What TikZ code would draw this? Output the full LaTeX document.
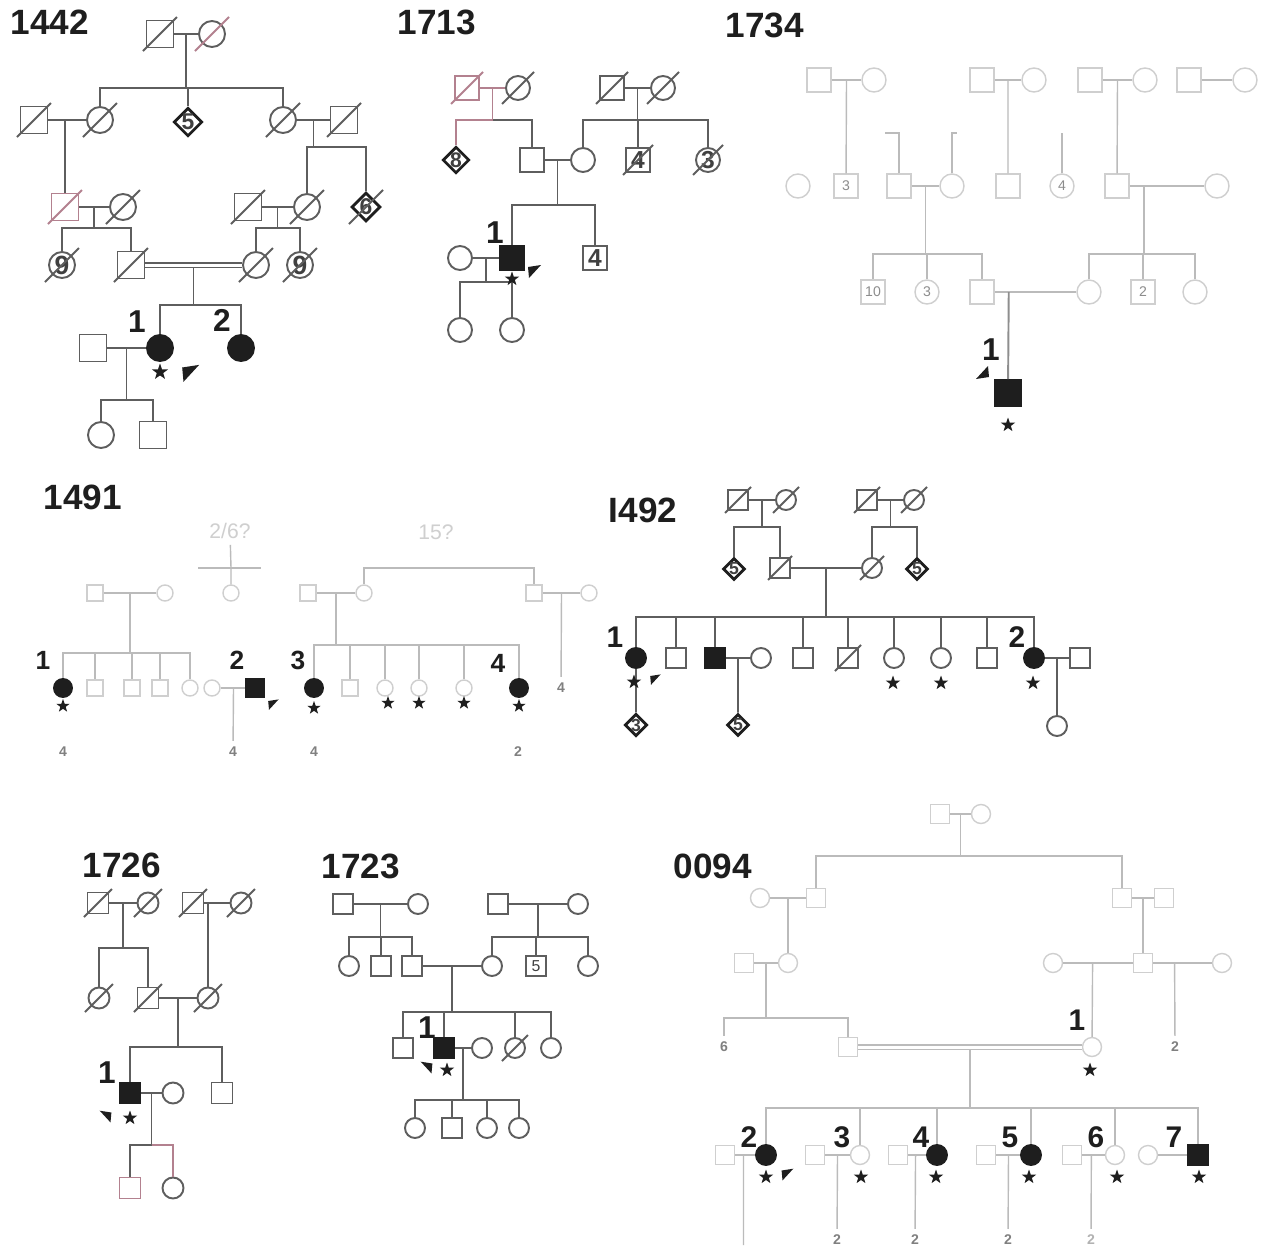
\documentclass[tikz,border=0pt]{standalone}
\usepackage{fontspec}
\setmainfont{Liberation Sans}
\usetikzlibrary{calc,shapes.geometric}
\definecolor{linegray}{HTML}{5E5E5E}
\definecolor{pinkline}{HTML}{B3818F}
\definecolor{fadedline}{HTML}{BBBBBB}
\definecolor{fadedsym}{HTML}{CFCFCF}
\definecolor{ink}{HTML}{1E1E1E}
\tikzset{
  kin/.style={draw=linegray, line width=1.1pt},
  fkin/.style={draw=fadedline, line width=0.8pt},
  pkin/.style={draw=pinkline, line width=1.1pt},
  person/.style={draw=linegray, line width=1.1pt, fill=white, inner sep=0pt,
    font=\fontsize{12}{12}\selectfont\bfseries, text=ink!85},
  male/.style={person, rectangle, minimum size=#1*0.02cm},
  male/.default=24,
  female/.style={person, circle, minimum size=#1*0.02cm},
  female/.default=24,
  anysex/.style={person, diamond, minimum size=#1*0.02cm,
    font=\fontsize{11}{11}\selectfont\bfseries},
  anysex/.default=24,
  boldsib/.style={draw=ink, line width=1.6pt, font=\fontsize{10}{10}\selectfont\bfseries},
  aff/.style={fill=ink, draw=ink},
  dim/.style={draw=fadedsym, line width=0.8pt, text=black!45,
    font=\fontsize{8}{8}\selectfont},
  title/.style={font=\fontsize{20}{20}\selectfont\bfseries, text=ink},
  idlab/.style={font=\fontsize{#1}{#1}\selectfont\bfseries, text=ink},
  idlab/.default=17,
  carrier/.style={star, star points=5, star point ratio=2.5, fill=ink,
    inner sep=0pt, minimum size=#1*0.02cm},
  carrier/.default=16,
  count/.style={font=\fontsize{8}{8}\selectfont\bfseries, text=black!50},
  proband/.pic={\fill[ink] (-6,-5) -- (7,-7) -- (-5,6) -- cycle;}
}
\newcommand{\deceased}[3][kin]{\draw[#1] ($(#2)+(-#3,#3)$) -- ($(#2)+(#3,-#3)$);}

\begin{document}
\begin{tikzpicture}[x=0.02cm, y=-0.02cm]
\useasboundingbox (0,0) rectangle (1265,1251);
\fill[white] (0,0) rectangle (1265,1251);

% ---------- 1442 ----------
\node[title] (t1442) at (50,22) {1442};
\node[male=27] (A-I1) at (160,34) {};
\node[female=26] (A-I2) at (212,34) {};
\deceased{A-I1}{17}
\deceased[pkin]{A-I2}{17}
\draw[kin] (A-I1) -- (A-I2);
\coordinate (A-m1) at ($(A-I1)!0.5!(A-I2)$);
\coordinate (A-s1) at ($(A-m1)+(0,54)$);
\node[male=27] (A-II1) at (34,120) {};
\node[female=26] (A-II2) at (100,120) {};
\node[anysex=25, boldsib, font=\fontsize{13}{13}\selectfont\bfseries] (A-II3) at (188,122) {5};
\node[female=26] (A-II4) at (283,120) {};
\node[male=27] (A-II5) at (344,120) {};
\foreach \p in {A-II1,A-II2,A-II4,A-II5} {\deceased{\p}{17}}
\draw[kin] (A-m1) -- (A-s1) (A-s1) -| (A-II2) (A-s1) -| (A-II3) (A-s1) -| (A-II4);
\draw[kin] (A-II1) -- (A-II2) (A-II4) -- (A-II5);
\coordinate (A-m2) at ($(A-II1)!0.5!(A-II2)$);
\coordinate (A-m3) at ($(A-II4)!0.5!(A-II5)$);
\coordinate (A-s3) at ($(A-m3)+(0,27)$);
\node[male=27, draw=pinkline] (A-III1) at (65,207) {};
\node[female=26] (A-III2) at (123,207) {};
\node[male=27] (A-III3) at (248,207) {};
\node[female=26] (A-III4) at (307,207) {};
\node[anysex=25, boldsib, font=\fontsize{13}{13}\selectfont\bfseries] (A-III5) at (366,207) {6};
\deceased[pkin]{A-III1}{17}
\foreach \p in {A-III2,A-III3,A-III4,A-III5} {\deceased{\p}{17}}
\draw[kin] (A-m2) -| (A-III1);
\draw[kin] (A-m3) -- (A-s3) (A-s3) -| (A-III4) (A-s3) -| (A-III5);
\draw[kin] (A-III1) -- (A-III2) (A-III3) -- (A-III4);
\coordinate (A-m4) at ($(A-III1)!0.5!(A-III2)$);
\coordinate (A-s4) at ($(A-m4)+(0,21)$);
\coordinate (A-m5) at ($(A-III3)!0.5!(A-III4)$);
\coordinate (A-s5) at ($(A-m5)+(0,21)$);
\node[female=26, font=\fontsize{15}{15}\selectfont\bfseries] (A-IV1) at (62,265) {9};
\node[male=27] (A-IV2) at (131,265) {};
\node[female=26] (A-IV3) at (256,265) {};
\node[female=26, font=\fontsize{15}{15}\selectfont\bfseries] (A-IV4) at (300,265) {9};
\foreach \p in {A-IV1,A-IV2,A-IV3,A-IV4} {\deceased{\p}{17}}
\draw[kin] (A-m4) -- (A-s4) (A-s4) -| (A-IV1) (A-s4) -| (A-IV2);
\draw[kin] (A-m5) -- (A-s5) (A-s5) -| (A-IV3) (A-s5) -| (A-IV4);
\draw[kin, double, double distance=0.06cm] (A-IV2) -- (A-IV3);
\coordinate (A-m6) at ($(A-IV2)!0.5!(A-IV3)+(0,3)$);
\coordinate (A-s6) at ($(A-m6)+(0,37)$);
\node[female=26, aff] (A-V1) at (160,348) {};
\node[female=26, aff] (A-V2) at (241,348) {};
\node[male=27] (A-V0) at (93,348) {};
\draw[kin] (A-m6) -- (A-s6) (A-s6) -| (A-V1) (A-s6) -| (A-V2);
\draw[kin] (A-V0) -- (A-V1);
\coordinate (A-m7) at ($(A-V0)!0.5!(A-V1)$);
\coordinate (A-s7) at ($(A-m7)+(0,52)$);
\node[female=26] (A-VI1) at (101,435) {};
\node[male=27] (A-VI2) at (153,435) {};
\draw[kin] (A-m7) -- (A-s7) (A-s7) -| (A-VI1) (A-s7) -| (A-VI2);
\node[idlab=18] (A-l1) at (137,322) {1};
\node[idlab=18] (A-l2) at (222,320) {2};
\node[carrier=17] (A-c1) at (160,372) {};
\pic[scale=1.3] at (190,374) {proband};

% ---------- 1713 ----------
\node[title] (t1713) at (437,22) {1713};
\node[male, draw=pinkline] (B-I1) at (467,88) {};
\node[female] (B-I2) at (518,88) {};
\node[male] (B-I3) at (612,88) {};
\node[female] (B-I4) at (663,88) {};
\deceased[pkin]{B-I1}{16}
\foreach \p in {B-I2,B-I3,B-I4} {\deceased{\p}{16}}
\draw[pkin] (B-I1) -- (B-I2);
\draw[kin] (B-I3) -- (B-I4);
\coordinate (B-m1) at ($(B-I1)!0.5!(B-I2)$);
\coordinate (B-s1) at ($(B-m1)+(0,32)$);
\coordinate (B-m2) at ($(B-I3)!0.5!(B-I4)$);
\coordinate (B-s2) at ($(B-m2)+(0,32)$);
\node[anysex=22, boldsib, font=\fontsize{12}{12}\selectfont\bfseries] (B-II1) at (456,160) {8};
\node[male] (B-II2) at (532,160) {};
\node[female] (B-II3) at (583,160) {};
\node[male, font=\fontsize{14}{14}\selectfont\bfseries] (B-II4) at (638,160) {4};
\node[female, font=\fontsize{14}{14}\selectfont\bfseries] (B-II5) at (708,160) {3};
\deceased{B-II4}{15}
\deceased{B-II5}{15}
\draw[pkin] (B-m1) -- (B-s1) (B-s1) -| (B-II1);
\draw[kin] (B-s1) -| (B-II2);
\draw[kin] (B-m2) -- (B-s2) (B-s2) -| (B-II3) (B-s2) -| (B-II4) (B-s2) -| (B-II5);
\draw[kin] (B-II2) -- (B-II3);
\coordinate (B-m3) at ($(B-II2)!0.5!(B-II3)$);
\coordinate (B-s3) at ($(B-m3)+(0,45)$);
\node[male, aff] (B-III1) at (512,258) {};
\node[male, font=\fontsize{14}{14}\selectfont\bfseries] (B-III2) at (595,258) {4};
\node[female] (B-III0) at (460,258) {};
\draw[kin] (B-m3) -- (B-s3) (B-s3) -| (B-III1) (B-s3) -| (B-III2);
\draw[kin] (B-III0) -- (B-III1);
\coordinate (B-m4) at ($(B-III0)!0.5!(B-III1)$);
\coordinate (B-s4) at ($(B-m4)+(0,24)$);
\node[female] (B-IV1) at (460,330) {};
\node[female] (B-IV2) at (512,330) {};
\draw[kin] (B-m4) -- (B-s4) (B-s4) -| (B-IV1) (B-s4) -| (B-IV2);
\node[idlab=18] (B-l1) at (495,233) {1};
\node[carrier=15] (B-c1) at (512,279) {};
\pic at (534,272) {proband};

% ---------- 1734 ----------
\node[title] (t1734) at (765,25) {1734};
\node[male, dim] (C-I1) at (819,80) {};
\node[female, dim] (C-I2) at (874,80) {};
\node[male, dim] (C-I3) at (982,80) {};
\node[female, dim] (C-I4) at (1034,80) {};
\node[male, dim] (C-I5) at (1090,80) {};
\node[female, dim] (C-I6) at (1145,80) {};
\node[male, dim] (C-I7) at (1189,80) {};
\node[female, dim] (C-I8) at (1245,80) {};
\draw[fkin] (C-I1) -- (C-I2) (C-I3) -- (C-I4) (C-I5) -- (C-I6) (C-I7) -- (C-I8);
\coordinate (C-m1) at ($(C-I1)!0.5!(C-I2)$);
\coordinate (C-m2) at ($(C-I3)!0.5!(C-I4)$);
\coordinate (C-m3) at ($(C-I5)!0.5!(C-I6)$);
\node[female, dim] (C-II1) at (798,186) {};
\node[male, dim] (C-II2) at (846,186) {3};
\node[male, dim] (C-II3) at (899,186) {};
\node[female, dim] (C-II4) at (952,186) {};
\node[male, dim] (C-II5) at (1008,186) {};
\node[female, dim] (C-II6) at (1062,186) {4};
\node[male, dim] (C-II7) at (1117,186) {};
\node[female, dim] (C-II8) at (1217,186) {};
\draw[fkin] (C-m1) -- (C-II2) (C-m2) -- (C-II5) (C-m3) -- (C-II7);
\coordinate (C-u1) at (885,133);
\coordinate (C-u2) at (957,133);
\coordinate (C-u3) at (1062,133);
\draw[fkin] (C-II3) |- (C-u1) (C-II4) |- (C-u2) (C-II6) -- (C-u3);
\draw[fkin] (C-II3) -- (C-II4) (C-II7) -- (C-II8);
\coordinate (C-m4) at ($(C-II3)!0.5!(C-II4)$);
\coordinate (C-s4) at ($(C-m4)+(0,68)$);
\coordinate (C-m5) at ($(C-II7)!0.27!(C-II8)$);
\coordinate (C-s5) at ($(C-m5)+(0,68)$);
\node[male, dim] (C-III1) at (873,292) {10};
\node[female, dim] (C-III2) at (927,292) {3};
\node[male, dim] (C-III3) at (982,292) {};
\node[female, dim] (C-III4) at (1089,292) {};
\node[male, dim] (C-III5) at (1143,292) {2};
\node[female, dim] (C-III6) at (1195,292) {};
\draw[fkin] (C-m4) -- (C-s4) (C-s4) -| (C-III1) (C-s4) -| (C-III2) (C-s4) -| (C-III3);
\draw[fkin] (C-m5) -- (C-s5) (C-s5) -| (C-III4) (C-s5) -| (C-III5) (C-s5) -| (C-III6);
\draw[fkin] (C-III3) -- (C-III4);
\coordinate (C-m6) at ($(C-III3)!0.25!(C-III4)$);
\node[male=26, aff] (C-IV1) at (1008,393) {};
\draw[kin, draw=linegray!70] (C-m6) -- (C-IV1);
\node[idlab=18] (C-l1) at (991,350) {1};
\node[carrier=15] (C-c1) at (1008,425) {};
\pic[xscale=-1, yscale=-1] at (983,372) {proband};

% ---------- 1491 ----------
\node[title] (t1491) at (83,497) {1491};
\node[font=\fontsize{12}{12}\selectfont, text=fadedsym] (D-q1) at (230,531) {2/6?};
\node[font=\fontsize{12}{12}\selectfont, text=fadedsym] (D-q2) at (436,532) {15?};
\node[male=16, dim] (D-I1) at (95,593) {};
\node[female=16, dim] (D-I2) at (165,593) {};
\node[female=16, dim] (D-I3) at (231,593) {};
\node[male=16, dim] (D-I4) at (308,593) {};
\node[female=16, dim] (D-I5) at (364,593) {};
\node[male=16, dim] (D-I6) at (534,593) {};
\node[female=16, dim] (D-I7) at (589,593) {};
\draw[fkin] (D-I1) -- (D-I2) (D-I4) -- (D-I5) (D-I6) -- (D-I7);
\coordinate (D-s0) at (231,568);
\coordinate (D-s1) at (450,568);
\draw[fkin] (D-q1) -- (D-s0) (D-s0) -- (D-I3);
\draw[fkin] ($(D-s0)+(-33,0)$) -- ($(D-s0)+(30,0)$);
\draw[fkin] (D-s1) -| (D-I5) (D-s1) -| (D-I6);
\node[female=18, aff] (D-II1) at (63,688) {};
\node[male=16, dim] (D-II2) at (95,688) {};
\node[male=16, dim] (D-II3) at (132,688) {};
\node[male=16, dim] (D-II4) at (160,688) {};
\node[female=16, dim] (D-II5) at (190,688) {};
\node[female=16, dim] (D-II6) at (212,688) {};
\node[male=18, aff] (D-II7) at (255,688) {};
\node[female=18, aff] (D-II8) at (314,688) {};
\node[male=16, dim] (D-II9) at (350,688) {};
\node[female=16, dim] (D-II10) at (385,688) {};
\node[female=16, dim] (D-II11) at (419,688) {};
\node[female=16, dim] (D-II12) at (464,688) {};
\node[female=18, aff] (D-II13) at (519,688) {};
\coordinate (D-m1) at ($(D-I1)!0.5!(D-I2)$);
\coordinate (D-s2) at ($(D-m1)+(0,60)$);
\draw[fkin] (D-m1) -- (D-s2) (D-s2) -| (D-II1) (D-s2) -| (D-II2) (D-s2) -| (D-II3)
  (D-s2) -| (D-II4) (D-s2) -| (D-II5);
\coordinate (D-m3) at ($(D-I4)!0.5!(D-I5)$);
\coordinate (D-s3) at ($(D-m3)+(0,52)$);
\draw[fkin] (D-m3) -- (D-s3);
\foreach \p in {D-II8,D-II9,D-II10,D-II11,D-II12,D-II13} {\draw[fkin] (D-s3) -| (\p);}
\draw[fkin] (D-II6) -- (D-II7);
\coordinate (D-m2) at ($(D-II6)!0.5!(D-II7)$);
\coordinate (D-m4) at ($(D-I6)!0.5!(D-I7)$);
\node[count] (D-n1) at (63,752) {4};
\node[count] (D-n2) at (233,752) {4};
\node[count] (D-n3) at (314,752) {4};
\node[count] (D-n4) at (518,752) {2};
\node[count] (D-n5) at (561,688) {4};
\draw[fkin] (D-m2) -- (D-n2) (D-m4) -- (D-n5);
\node[idlab=15] (D-l1) at (43,660) {1};
\node[idlab=15] (D-l2) at (237,660) {2};
\node[idlab=15] (D-l3) at (298,660) {3};
\node[idlab=15] (D-l4) at (498,663) {4};
\node[carrier=14] (D-c1) at (63,706) {};
\node[carrier=14] (D-c2) at (314,708) {};
\node[carrier=14] (D-c3) at (388,703) {};
\node[carrier=14] (D-c4) at (419,703) {};
\node[carrier=14] (D-c5) at (464,703) {};
\node[carrier=14] (D-c6) at (519,706) {};
\pic[scale=0.8] at (273,705) {proband};

% ---------- I492 ----------
\node[title] (t1492) at (643,510) {I492};
\node[male=20] (E-I1) at (738,500) {};
\node[female=20] (E-I2) at (786,500) {};
\node[male=20] (E-I3) at (867,500) {};
\node[female=20] (E-I4) at (914,500) {};
\foreach \p in {E-I1,E-I2,E-I3,E-I4} {\deceased{\p}{13}}
\draw[kin] (E-I1) -- (E-I2) (E-I3) -- (E-I4);
\coordinate (E-m1) at ($(E-I1)!0.5!(E-I2)$);
\coordinate (E-s1) at ($(E-m1)+(0,27)$);
\coordinate (E-m2) at ($(E-I3)!0.5!(E-I4)$);
\coordinate (E-s2) at ($(E-m2)+(0,27)$);
\node[anysex=21, boldsib] (E-II1) at (734,569) {5};
\node[male=20] (E-II2) at (780,568) {};
\node[female=20] (E-II3) at (872,568) {};
\node[anysex=21, boldsib] (E-II4) at (917,569) {5};
\deceased{E-II2}{12}
\deceased{E-II3}{12}
\draw[kin] (E-m1) -- (E-s1) (E-s1) -| (E-II1) (E-s1) -| (E-II2);
\draw[kin] (E-m2) -- (E-s2) (E-s2) -| (E-II3) (E-s2) -| (E-II4);
\draw[kin] (E-II2) -- (E-II3);
\coordinate (E-m3) at ($(E-II2)!0.5!(E-II3)$);
\coordinate (E-s3) at ($(E-m3)+(0,49)$);
\node[female=20, aff] (E-III1) at (636,658) {};
\node[male=20] (E-III2) at (676,658) {};
\node[male=20, aff] (E-III3) at (715,658) {};
\node[female=20] (E-III4) at (761,658) {};
\node[male=20] (E-III5) at (803,658) {};
\node[male=20] (E-III6) at (848,658) {};
\node[female=20] (E-III7) at (894,658) {};
\node[female=20] (E-III8) at (941,658) {};
\node[male=20] (E-III9) at (987,658) {};
\node[female=20, aff] (E-III10) at (1034,658) {};
\node[male=20] (E-III11) at (1080,658) {};
\deceased{E-III6}{13}
\draw[kin] (E-m3) -- (E-s3);
\foreach \p in {E-III1,E-III2,E-III3,E-III5,E-III6,E-III7,E-III8,E-III9,E-III10} {\draw[kin] (E-s3) -| (\p);}
\draw[kin] (E-III3) -- (E-III4) (E-III10) -- (E-III11);
\coordinate (E-m4) at ($(E-III3)!0.5!(E-III4)$);
\coordinate (E-m5) at ($(E-III10)!0.5!(E-III11)$);
\node[anysex=21, boldsib] (E-IV1) at (636,725) {3};
\node[anysex=21, boldsib] (E-IV2) at (738,725) {5};
\node[female=20] (E-IV3) at (1057,726) {};
\draw[kin] (E-III1) -- (E-IV1) (E-m4) -- (E-IV2) (E-m5) -- (E-IV3);
\node[idlab=17] (E-l1) at (615,637) {1};
\node[idlab=17] (E-l2) at (1017,637) {2};
\node[carrier=15] (E-c1) at (634,682) {};
\node[carrier=15] (E-c2) at (893,683) {};
\node[carrier=15] (E-c3) at (941,683) {};
\node[carrier=15] (E-c4) at (1033,683) {};
\pic[scale=0.8] at (655,680) {proband};

% ---------- 1726 ----------
\node[title] (t1726) at (122,865) {1726};
\node[male=21] (F-I1) at (98,903) {};
\node[female=21] (F-I2) at (148,903) {};
\node[male=21] (F-I3) at (193,903) {};
\node[female=21] (F-I4) at (241,903) {};
\foreach \p in {F-I1,F-I2,F-I3,F-I4} {\deceased{\p}{14}}
\draw[kin] (F-I1) -- (F-I2) (F-I3) -- (F-I4);
\coordinate (F-m1) at ($(F-I1)!0.5!(F-I2)$);
\coordinate (F-s1) at ($(F-m1)+(0,45)$);
\coordinate (F-m2) at ($(F-I3)!0.3!(F-I4)$);
\node[female=21] (F-II1) at (99,998) {};
\node[male=21] (F-II2) at (148,998) {};
\node[female=21] (F-II3) at (208,998) {};
\foreach \p in {F-II1,F-II2,F-II3} {\deceased{\p}{14}}
\draw[kin] (F-m1) -- (F-s1) (F-s1) -| (F-II1) (F-s1) -| (F-II2);
\draw[kin] (F-m2) -| (F-II3);
\draw[kin] (F-II2) -- (F-II3);
\coordinate (F-m3) at ($(F-II2)!0.5!(F-II3)$);
\coordinate (F-s3) at ($(F-m3)+(0,49)$);
\node[male=21, aff] (F-III1) at (130,1093) {};
\node[female=21] (F-III2) at (173,1093) {};
\node[male=21] (F-III3) at (222,1093) {};
\draw[kin] (F-m3) -- (F-s3) (F-s3) -| (F-III1) (F-s3) -| (F-III3);
\draw[kin] (F-III1) -- (F-III2);
\coordinate (F-m4) at ($(F-III1)!0.5!(F-III2)$);
\coordinate (F-s4) at ($(F-m4)+(0,52)$);
\node[male=21, draw=pinkline] (F-IV1) at (130,1188) {};
\node[female=21] (F-IV2) at (173,1188) {};
\draw[kin] (F-m4) -- (F-s4) (F-s4) -| (F-IV1);
\draw[pkin] (F-s4) -| (F-IV2);
\node[idlab=18] (F-l1) at (107,1073) {1};
\node[carrier=15] (F-c1) at (130,1118) {};
\pic[xscale=-1, scale=0.9] at (106,1117) {proband};

% ---------- 1723 ----------
\node[title] (t1723) at (361,866) {1723};
\node[male=20] (G-I1) at (343,904) {};
\node[female=20] (G-I2) at (418,904) {};
\node[male=20] (G-I3) at (498,904) {};
\node[female=20] (G-I4) at (578,904) {};
\draw[kin] (G-I1) -- (G-I2) (G-I3) -- (G-I4);
\coordinate (G-m1) at ($(G-I1)!0.5!(G-I2)$);
\coordinate (G-s1) at ($(G-m1)+(0,33)$);
\coordinate (G-m2) at ($(G-I3)!0.5!(G-I4)$);
\coordinate (G-s2) at ($(G-m2)+(0,33)$);
\node[female=20] (G-II1) at (349,966) {};
\node[male=20] (G-II2) at (381,966) {};
\node[male=20] (G-II3) at (412,966) {};
\node[female=20] (G-II4) at (492,966) {};
\node[male=20, font=\fontsize{9}{9}\selectfont] (G-II5) at (536,966) {5};
\node[female=20] (G-II6) at (588,966) {};
\draw[kin] (G-m1) -- (G-s1) (G-s1) -| (G-II1) (G-s1) -| (G-II2) (G-s1) -| (G-II3);
\draw[kin] (G-m2) -- (G-s2) (G-s2) -| (G-II4) (G-s2) -| (G-II5) (G-s2) -| (G-II6);
\draw[kin] (G-II3) -- (G-II4);
\coordinate (G-m3) at ($(G-II3)!0.5!(G-II4)$);
\coordinate (G-s3) at ($(G-m3)+(0,46)$);
\node[male=20] (G-III1) at (403,1048) {};
\node[male=20, aff] (G-III2) at (444,1048) {};
\node[female=20] (G-III3) at (482,1048) {};
\node[female=20] (G-III4) at (515,1048) {};
\node[female=20] (G-III5) at (551,1048) {};
\deceased{G-III4}{13}
\draw[kin] (G-m3) -- (G-s3) (G-s3) -| (G-III1) (G-s3) -| (G-III2) (G-s3) -| (G-III4) (G-s3) -| (G-III5);
\draw[kin] (G-III2) -- (G-III3);
\coordinate (G-m4) at ($(G-III2)!0.5!(G-III3)$);
\coordinate (G-s4) at ($(G-m4)+(0,52)$);
\node[female=20] (G-IV1) at (415,1128) {};
\node[male=20] (G-IV2) at (452,1128) {};
\node[female=20] (G-IV3) at (487,1128) {};
\node[female=20] (G-IV4) at (519,1128) {};
\draw[kin] (G-m4) -- (G-s4) (G-s4) -| (G-IV1) (G-s4) -| (G-IV2) (G-s4) -| (G-IV3) (G-s4) -| (G-IV4);
\node[idlab=18] (G-l1) at (427,1028) {1};
\node[carrier=15] (G-c1) at (447,1070) {};
\pic[xscale=-1, scale=0.9] at (427,1068) {proband};

% ---------- 0094 ----------
\node[title] (t0094) at (713,866) {0094};
\node[male=19, dim] (H-I1) at (940,814) {};
\node[female=19, dim] (H-I2) at (981,814) {};
\draw[fkin] (H-I1) -- (H-I2);
\coordinate (H-m1) at ($(H-I1)!0.5!(H-I2)$);
\coordinate (H-s1) at ($(H-m1)+(0,42)$);
\node[female=19, dim] (H-II1) at (760,898) {};
\node[male=19, dim] (H-II2) at (816,898) {};
\node[male=19, dim] (H-II3) at (1122,898) {};
\node[male=19, dim] (H-II4) at (1164,898) {};
\draw[fkin] (H-m1) -- (H-s1) (H-s1) -| (H-II2) (H-s1) -| (H-II3);
\draw[fkin] (H-II1) -- (H-II2) (H-II3) -- (H-II4);
\coordinate (H-m2) at ($(H-II1)!0.5!(H-II2)$);
\coordinate (H-m3) at ($(H-II3)!0.5!(H-II4)$);
\node[male=19, dim] (H-III1) at (744,963) {};
\node[female=19, dim] (H-III2) at (788,963) {};
\node[female=19, dim] (H-III3) at (1053,963) {};
\node[male=19, dim] (H-III4) at (1143,963) {};
\node[female=19, dim] (H-III5) at (1222,963) {};
\draw[fkin] (H-m2) -- (H-III2) (H-m3) -- (H-III4);
\draw[fkin] (H-III1) -- (H-III2) (H-III3) -- (H-III4) (H-III4) -- (H-III5);
\coordinate (H-m4) at ($(H-III1)!0.5!(H-III2)$);
\coordinate (H-s4) at ($(H-m4)+(0,55)$);
\node[count] (H-n1) at (724,1047) {6};
\node[male=19, dim] (H-IV1) at (848,1047) {};
\draw[fkin] (H-m4) -- (H-s4) (H-s4) -| (H-n1) (H-s4) -| (H-IV1);
\coordinate (H-m5) at ($(H-III3)!0.44!(H-III4)$);
\coordinate (H-m6) at ($(H-III4)!0.4!(H-III5)$);
\node[female=19, dim] (H-IV2) at (1092,1047) {};
\node[count] (H-n2) at (1175,1047) {2};
\draw[fkin] (H-m5) -- (H-IV2) (H-m6) -- (H-n2);
\draw[fkin, double, double distance=0.06cm] (H-IV1) -- (H-IV2);
\coordinate (H-m7) at ($(H-IV1)!0.5!(H-IV2)+(0,3)$);
\coordinate (H-s7) at ($(H-m7)+(0,58)$);
\node[male=19, dim] (H-V1) at (725,1155) {};
\node[female=20, aff] (H-V2) at (766,1155) {};
\node[male=19, dim] (H-V3) at (815,1155) {};
\node[female=19, dim] (H-V4) at (860,1155) {};
\node[male=19, dim] (H-V5) at (898,1155) {};
\node[female=20, aff] (H-V6) at (937,1155) {};
\node[male=19, dim] (H-V7) at (986,1155) {};
\node[female=20, aff] (H-V8) at (1031,1155) {};
\node[male=19, dim] (H-V9) at (1072,1155) {};
\node[female=19, dim] (H-V10) at (1115,1155) {};
\node[female=19, dim] (H-V11) at (1148,1155) {};
\node[male=20, aff] (H-V12) at (1198,1155) {};
\draw[fkin] (H-m7) -- (H-s7);
\foreach \p in {H-V2,H-V4,H-V6,H-V8,H-V10,H-V12} {\draw[fkin] (H-s7) -| (\p);}
\draw[fkin] (H-V1) -- (H-V2) (H-V3) -- (H-V4) (H-V5) -- (H-V6) (H-V7) -- (H-V8)
  (H-V9) -- (H-V10) (H-V11) -- (H-V12);
\coordinate (H-m8) at ($(H-V1)!0.45!(H-V2)$);
\coordinate (H-e8) at ($(H-m8)+(0,90)$);
\coordinate (H-m9) at ($(H-V3)!0.5!(H-V4)$);
\coordinate (H-m10) at ($(H-V5)!0.45!(H-V6)$);
\coordinate (H-m11) at ($(H-V7)!0.5!(H-V8)$);
\coordinate (H-m12) at ($(H-V9)!0.45!(H-V10)$);
\node[count] (H-n3) at (837,1240) {2};
\node[count] (H-n4) at (915,1240) {2};
\node[count] (H-n5) at (1008,1240) {2};
\node[count, text=black!30] (H-n6) at (1091,1240) {2};
\draw[fkin] (H-m8) -- (H-e8) (H-m9) -- (H-n3) (H-m10) -- (H-n4) (H-m11) -- (H-n5) (H-m12) -- (H-n6);
\node[idlab=17] (H-l1) at (1077,1020) {1};
\node[idlab=17] (H-l2) at (749,1137) {2};
\node[idlab=17] (H-l3) at (842,1137) {3};
\node[idlab=17] (H-l4) at (921,1137) {4};
\node[idlab=17] (H-l5) at (1010,1137) {5};
\node[idlab=17] (H-l6) at (1096,1137) {6};
\node[idlab=17] (H-l7) at (1174,1137) {7};
\node[carrier=15] (H-c1) at (1090,1070) {};
\node[carrier=15] (H-c2) at (766,1177) {};
\node[carrier=15] (H-c3) at (861,1177) {};
\node[carrier=15] (H-c4) at (936,1177) {};
\node[carrier=15] (H-c5) at (1029,1177) {};
\node[carrier=15] (H-c6) at (1117,1177) {};
\node[carrier=15] (H-c7) at (1199,1177) {};
\pic[scale=0.9] at (787,1175) {proband};
\end{tikzpicture}
\end{document}
